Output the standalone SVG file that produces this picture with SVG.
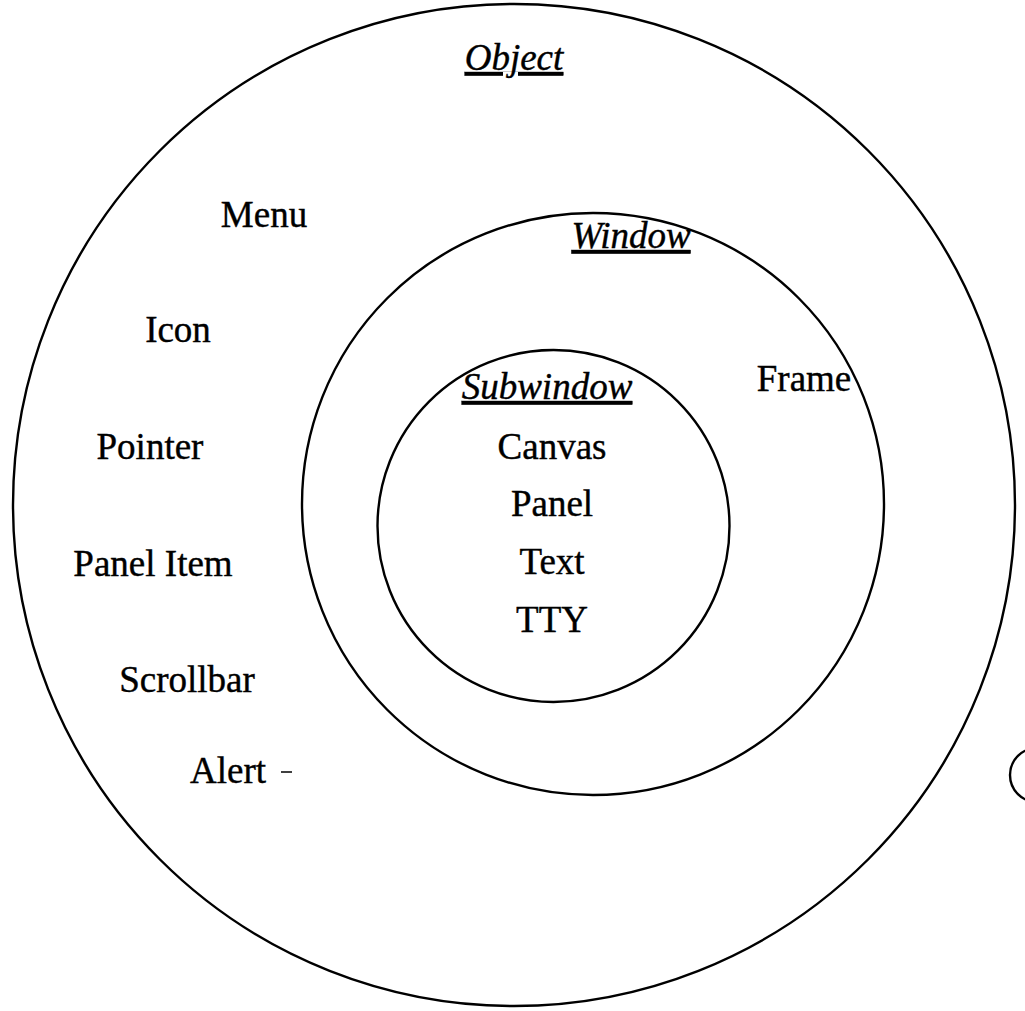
<svg xmlns="http://www.w3.org/2000/svg" width="1025" height="1011" viewBox="0 0 1025 1011">
<style>
.ring{fill:none;stroke:#000;stroke-width:2.4}
.t{font-family:"Liberation Serif","Times New Roman",serif;font-size:37px;fill:#000;stroke:#000;stroke-width:0.4;text-anchor:middle}
.h{font-style:italic;text-decoration:underline}
</style>
<rect width="1025" height="1011" fill="#fff"/>
<g id="object">
<circle class="ring" cx="514" cy="505" r="501"/>
<text class="t h" x="514" y="70">Object</text>
<text class="t" x="264" y="227">Menu</text>
<text class="t" x="178" y="342">Icon</text>
<text class="t" x="150" y="459">Pointer</text>
<text class="t" x="153" y="576">Panel Item</text>
<text class="t" x="187" y="692">Scrollbar</text>
<text class="t" x="228" y="783">Alert</text>
<line x1="281" y1="772" x2="292" y2="772" stroke="#000" stroke-width="1.5"/>
</g>
<g id="window">
<circle class="ring" cx="593" cy="504" r="291"/>
<text class="t h" x="631" y="248">Window</text>
<text class="t" x="804" y="391">Frame</text>
</g>
<g id="subwindow">
<circle class="ring" cx="553.5" cy="526" r="176"/>
<text class="t h" x="547" y="399">Subwindow</text>
<text class="t" x="552" y="459">Canvas</text>
<text class="t" x="552" y="516">Panel</text>
<text class="t" x="552" y="574">Text</text>
<text class="t" x="552" y="632">TTY</text>
</g>
<g id="connectors">
<circle class="ring" cx="1037" cy="775" r="27" stroke-width="1.5"/>
</g>
</svg>
